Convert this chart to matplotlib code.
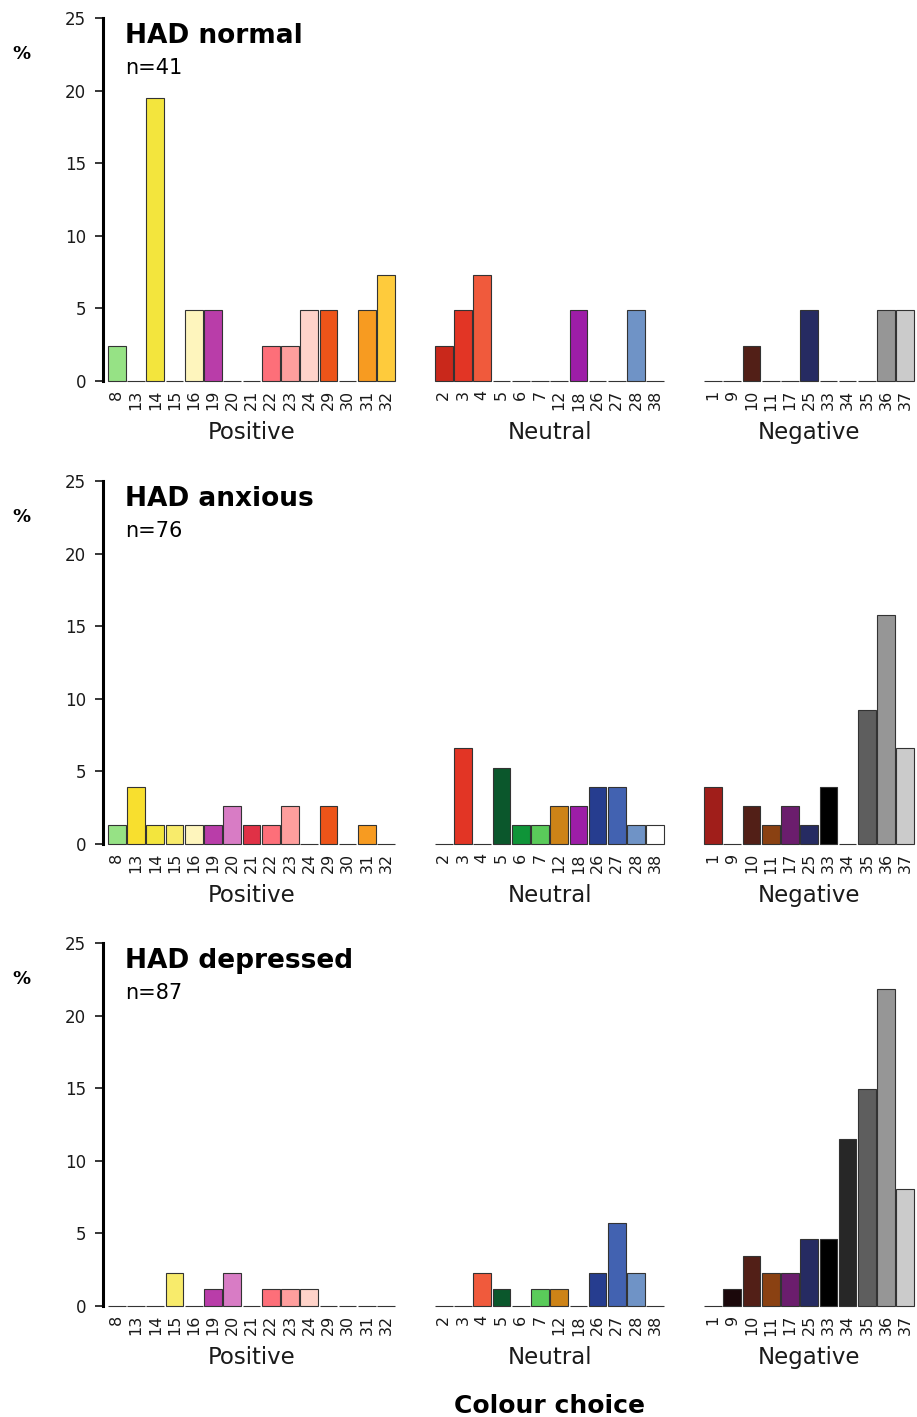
import matplotlib
matplotlib.use("Agg")
import matplotlib.pyplot as plt
import numpy as np

plt.rcParams['font.family'] = ['DejaVu Sans']

# ---------------- data ----------------
positive_codes = [8, 13, 14, 15, 16, 19, 20, 21, 22, 23, 24, 29, 30, 31, 32]
neutral_codes = [2, 3, 4, 5, 6, 7, 12, 18, 26, 27, 28, 38]
negative_codes = [1, 9, 10, 11, 17, 25, 33, 34, 35, 36, 37]
group_names = ["Positive", "Neutral", "Negative"]

panel_titles = ["HAD normal", "HAD anxious", "HAD depressed"]
panel_n = [41, 76, 87]

# counts of respondents choosing each colour (percent = count / n * 100)
normal_pos = [1, 0, 8, 0, 2, 2, 0, 0, 1, 1, 2, 2, 0, 2, 3]
normal_neu = [1, 2, 3, 0, 0, 0, 0, 2, 0, 0, 2, 0]
normal_neg = [0, 0, 1, 0, 0, 2, 0, 0, 0, 2, 2]

anxious_pos = [1, 3, 1, 1, 1, 1, 2, 1, 1, 2, 0, 2, 0, 1, 0]
anxious_neu = [0, 5, 0, 4, 1, 1, 2, 2, 3, 3, 1, 1]
anxious_neg = [3, 0, 2, 1, 2, 1, 3, 0, 7, 12, 5]

depressed_pos = [0, 0, 0, 2, 0, 1, 2, 0, 1, 1, 1, 0, 0, 0, 0]
depressed_neu = [0, 0, 2, 1, 0, 1, 1, 0, 2, 5, 2, 0]
depressed_neg = [0, 1, 3, 2, 2, 4, 4, 10, 13, 19, 7]

colour_of = {
    1: '#A01E1A', 2: '#C9281B', 3: '#E23525', 4: '#F05A3C', 5: '#0B572C',
    6: '#0F9438', 7: '#5ACB5A', 8: '#96E285', 9: '#1B080B', 10: '#521F17',
    11: '#8A4112', 12: '#CD8317', 13: '#F8DF2E', 14: '#F3E53D', 15: '#F8EB6B',
    16: '#FEF5BD', 17: '#6B1D6D', 18: '#9D1DA7', 19: '#B93DA9', 20: '#D87CC5',
    21: '#E03146', 22: '#FD6F79', 23: '#FE9E9D', 24: '#FFD3C9', 25: '#262B62',
    26: '#263D8F', 27: '#4262B1', 28: '#6F93C6', 29: '#ED5419', 30: '#F47920',
    31: '#F79B21', 32: '#FECB3C', 33: '#000000', 34: '#272727', 35: '#5E5E5E',
    36: '#969696', 37: '#CBCBCB', 38: '#FFFFFF',
}

panels = [
    (normal_pos, normal_neu, normal_neg),
    (anxious_pos, anxious_neu, anxious_neg),
    (depressed_pos, depressed_neu, depressed_neg),
]

# ---------------- layout ----------------
W, H = 917, 1417
fig = plt.figure(figsize=(W / 100, H / 100), dpi=100)

zero_px = [381, 844, 1306]
ax_left_px = 103
unit_px = 19.23
ax_h_px = 363
gap = 2

groups = [positive_codes, neutral_codes, negative_codes]
positions = []
start = 0
centers = []
for g in groups:
    pos = list(range(start, start + len(g)))
    positions.append(pos)
    centers.append((pos[0] + pos[-1]) / 2)
    start = pos[-1] + 1 + gap

x0 = -0.46 - 5 / unit_px
x1 = x0 + (W - ax_left_px) / unit_px

for p, (vals, title, n) in enumerate(zip(panels, panel_titles, panel_n)):
    zp = zero_px[p]
    ax = fig.add_axes([ax_left_px / W, (H - zp) / H, (W - ax_left_px) / W, ax_h_px / H])
    all_pos, all_lab, = [], []
    for gi, (codes, counts) in enumerate(zip(groups, vals)):
        pct = np.array(counts) / n * 100
        cols = [colour_of[c] for c in codes]
        ax.bar(positions[gi], pct, width=0.92, color=cols, edgecolor='#333333',
               linewidth=0.8, clip_on=False, zorder=3)
        all_pos += positions[gi]
        all_lab += [str(c) for c in codes]
        ax.annotate(group_names[gi], xy=(centers[gi], 0), xycoords='data',
                    xytext=(0, -58 * 0.72), textcoords='offset points',
                    ha='center', va='baseline', fontsize=16.5, color='#1a1a1a')
    ax.set_xlim(x0, x1)
    ax.set_ylim(0, 25)
    ax.set_xticks(all_pos)
    ax.set_xticklabels(all_lab, rotation=90, fontsize=11.5, color='#1a1a1a')
    ax.tick_params(axis='x', length=0, pad=6.5)
    ax.set_yticks([0, 5, 10, 15, 20, 25])
    ax.tick_params(axis='y', length=5.8, width=1.1, pad=6.5, labelsize=12,
                   labelcolor='#1a1a1a')
    for s in ['top', 'right', 'bottom']:
        ax.spines[s].set_visible(False)
    ax.spines['left'].set_linewidth(2.2)
    ax.spines['left'].set_bounds(0, 25)
    ax.patch.set_alpha(0)

    off = zp - zero_px[0]
    fig.text(125 / W, 1 - (43 + off) / H, title, fontsize=19, fontweight='bold',
             va='baseline', ha='left')
    fig.text(125 / W, 1 - (74 + off) / H, f"n={n}", fontsize=15,
             va='baseline', ha='left')
    fig.text(21 / W, 1 - (59 + off) / H, "%", fontsize=13, fontweight='bold',
             va='baseline', ha='center')

fig.text(549 / W, 1 - 1413 / H, "Colour choice", fontsize=18, fontweight='bold',
         va='baseline', ha='center')

fig.savefig("out.png", dpi=100)
